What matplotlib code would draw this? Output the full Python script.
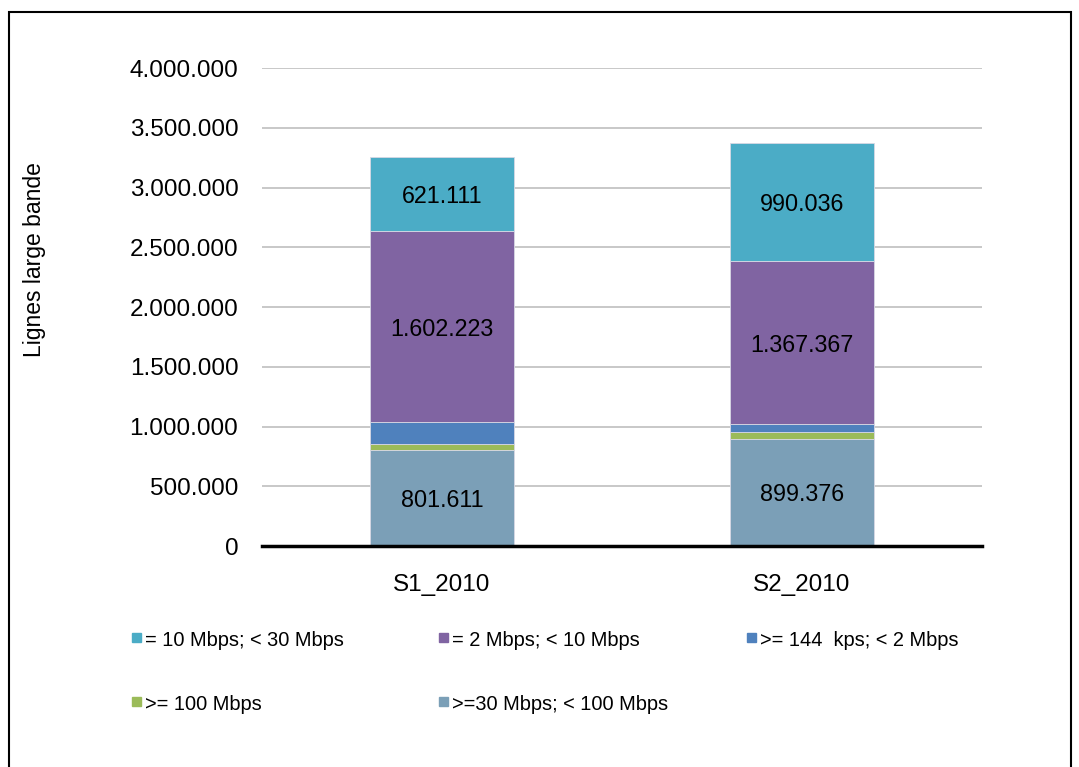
import matplotlib.pyplot as plt
from matplotlib.patches import Rectangle

plt.rcParams['font.family'] = ['Liberation Sans', 'DejaVu Sans']

periods = ['S1_2010', 'S2_2010']
# segments stacked bottom -> top
gray_30_100 = [801611, 899376]
green_100 = [50000, 53000]
blue_144k_2 = [184000, 67000]
purple_2_10 = [1602223, 1367367]
cyan_10_30 = [621111, 990036]

series = [
    ('>=30 Mbps; < 100 Mbps', gray_30_100, '#7b9fb7', True),
    ('>= 100 Mbps', green_100, '#9bbb59', False),
    ('>= 144  kps; < 2 Mbps', blue_144k_2, '#4f81bd', False),
    ('= 2 Mbps; < 10 Mbps', purple_2_10, '#8064a2', True),
    ('= 10 Mbps; < 30 Mbps', cyan_10_30, '#4bacc6', True),
]
yticks = [0, 500000, 1000000, 1500000, 2000000, 2500000, 3000000, 3500000, 4000000]


def fmt(v):
    return f'{v:,}'.replace(',', '.')


fig = plt.figure(figsize=(10.79, 7.67), dpi=100)
ax = fig.add_axes([0.2428, 0.2881, 0.6673, 0.6232])

x = list(range(len(periods)))
bottom = [0, 0]
for name, vals, col, show in series:
    ax.bar(x, vals, width=0.4, bottom=bottom, color=col,
           edgecolor='#d8d8e4', linewidth=0.6, zorder=3)
    if show:
        for xi, b, v in zip(x, bottom, vals):
            ax.text(xi, b + v / 2, fmt(v), ha='center', va='center_baseline',
                    fontsize=16.8, color='black', zorder=4)
    bottom = [b + v for b, v in zip(bottom, vals)]

ax.set_xlim(-0.5, 1.5)
ax.set_ylim(0, 4000000)
ax.set_yticks(yticks)
ax.set_yticklabels([fmt(t) if t else '0' for t in yticks], fontsize=17.5)
ax.set_xticks(x)
ax.set_xticklabels(periods, fontsize=17.5)
ax.tick_params(axis='y', length=0, pad=17)
ax.tick_params(axis='x', length=0, pad=20)
ax.yaxis.grid(True, color='#c4c4c4', linewidth=1.3, zorder=0)
for s in ['top', 'right', 'left']:
    ax.spines[s].set_visible(False)
ax.spines['bottom'].set_linewidth(2.5)
ax.spines['bottom'].set_zorder(5)

fig.text(0.032, 0.661, 'Lignes large bande', rotation=90,
         ha='center', va='center', fontsize=16.5)

# legend laid out like the original (row-major: cyan, purple, blue / green, gray)
leg_order = [4, 3, 2, 1, 0]
leg_pos = [(132, 640), (439, 640), (747, 640), (132, 704), (439, 704)]
W, H = 1079, 767
for idx, (px, py) in zip(leg_order, leg_pos):
    name, vals, col, show = series[idx]
    fig.patches.append(Rectangle((px / W, 1 - (py + 1.5) / H), 9 / W, 9 / H,
                                 transform=fig.transFigure, color=col))
    fig.text((px + 13) / W, 1 - py / H, name, ha='left', va='center',
             fontsize=14.4)

fig.patches.append(Rectangle((9 / W, -0.05), 1062 / W, 1.05 - 12 / H,
                             transform=fig.transFigure, fill=False,
                             edgecolor='black', linewidth=1.5))

fig.savefig('out.png', dpi=100)
